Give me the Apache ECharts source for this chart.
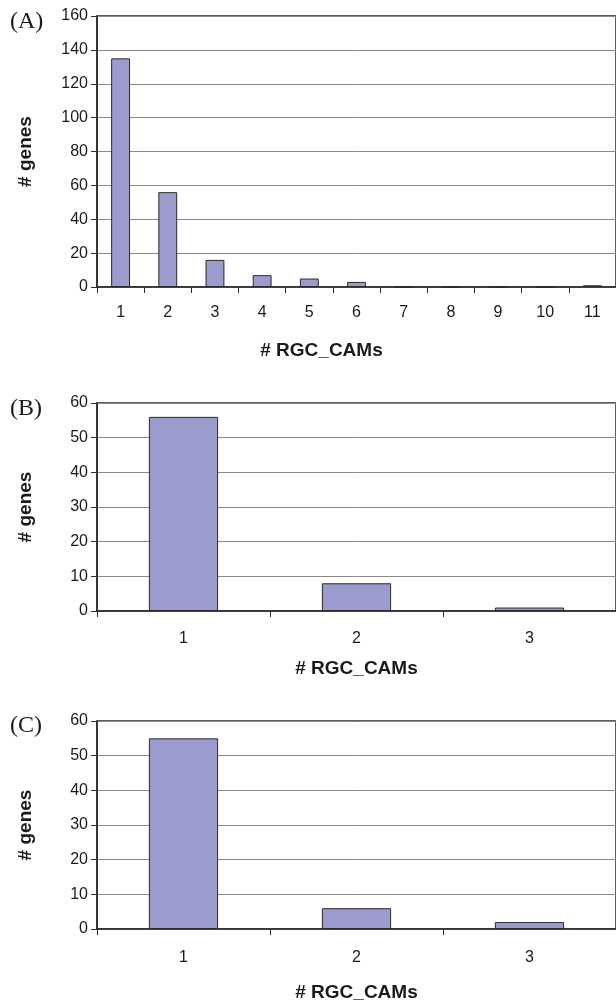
<!DOCTYPE html>
<html>
<head>
<meta charset="utf-8">
<script src="https://cdn.jsdelivr.net/npm/echarts@6/dist/echarts.min.js"></script>
<style>
html,body{margin:0;padding:0;background:#fff;}
#chart{width:616px;height:1004px;}
</style>
</head>
<body>
<div id="chart"></div>
<script>
var catsA = ['1','2','3','4','5','6','7','8','9','10','11'];
var valsA = [135, 56, 16, 7, 5, 3, 0, 0, 0, 0, 1];
var catsB = ['1','2','3'];
var valsB = [56, 8, 1];
var catsC = ['1','2','3'];
var valsC = [55, 6, 2];
var panelLabels = ['(A)', '(B)', '(C)'];
var xTitle = '# RGC_CAMs';
var yTitle = '# genes';

var chart = echarts.init(document.getElementById('chart'), null, {renderer: 'canvas'});
var FONT = 'Liberation Sans, Arial, sans-serif';
var barColor = '#9b9bcd';
var dark = '#2a2a2a';

function xAxisDef(idx, cats, labelMargin, nameGap, namePad) {
  return {
    type: 'category', gridIndex: idx, data: cats,
    axisLine: {show: true, lineStyle: {color: dark, width: 1.5}},
    axisTick: {show: true, length: 6, lineStyle: {color: dark}},
    axisLabel: {color: '#1a1a1a', fontFamily: FONT, fontSize: 16, margin: labelMargin},
    name: xTitle, nameLocation: 'middle', nameGap: nameGap,
    nameTextStyle: {color: '#1a1a1a', fontFamily: FONT, fontSize: 19, fontWeight: 'bold', padding: namePad}
  };
}
function yAxisDef(idx, max, interval) {
  return {
    type: 'value', gridIndex: idx, min: 0, max: max, interval: interval,
    axisLine: {show: true, lineStyle: {color: dark, width: 1.5}},
    axisTick: {show: true, length: 6, lineStyle: {color: dark}},
    axisLabel: {color: '#1a1a1a', fontFamily: FONT, fontSize: 16, margin: 9},
    splitLine: {show: true, lineStyle: {color: '#8a8a8a', width: 1}},
    name: yTitle, nameLocation: 'middle', nameRotate: 90, nameGap: 62,
    nameTextStyle: {color: '#1a1a1a', fontFamily: FONT, fontSize: 19, fontWeight: 'bold'}
  };
}
function barSeries(idx, vals) {
  return {
    type: 'bar', xAxisIndex: idx, yAxisIndex: idx, data: vals,
    barWidth: '40%',
    itemStyle: {color: barColor, borderColor: dark, borderWidth: 1},
    silent: true, animation: false
  };
}
function panelText(txt, y) {
  return {type: 'text', x: 10, y: y,
    style: {text: txt, fill: '#1a1a1a', font: '24px "Liberation Serif", "Times New Roman", serif',
            textAlign: 'left', textVerticalAlign: 'middle'}};
}

var option = {
  backgroundColor: '#fff',
  animation: false,
  grid: [
    {left: 97, top: 16, width: 521, height: 271, show: true, borderColor: dark, borderWidth: 1.5, backgroundColor: 'transparent'},
    {left: 97, top: 403, width: 524, height: 208, show: true, borderColor: dark, borderWidth: 1.5, backgroundColor: 'transparent'},
    {left: 97, top: 721, width: 524, height: 208, show: true, borderColor: dark, borderWidth: 1.5, backgroundColor: 'transparent'}
  ],
  xAxis: [
    xAxisDef(0, catsA, 18, 54, [0, 70, 0, 0]),
    xAxisDef(1, catsB, 20, 48, 0),
    xAxisDef(2, catsC, 21, 54, 0)
  ],
  yAxis: [
    yAxisDef(0, 160, 20),
    yAxisDef(1, 60, 10),
    yAxisDef(2, 60, 10)
  ],
  series: [barSeries(0, valsA), barSeries(1, valsB), barSeries(2, valsC)],
  graphic: [panelText(panelLabels[0], 22), panelText(panelLabels[1], 409), panelText(panelLabels[2], 726)]
};
chart.setOption(option);
</script>
</body>
</html>
